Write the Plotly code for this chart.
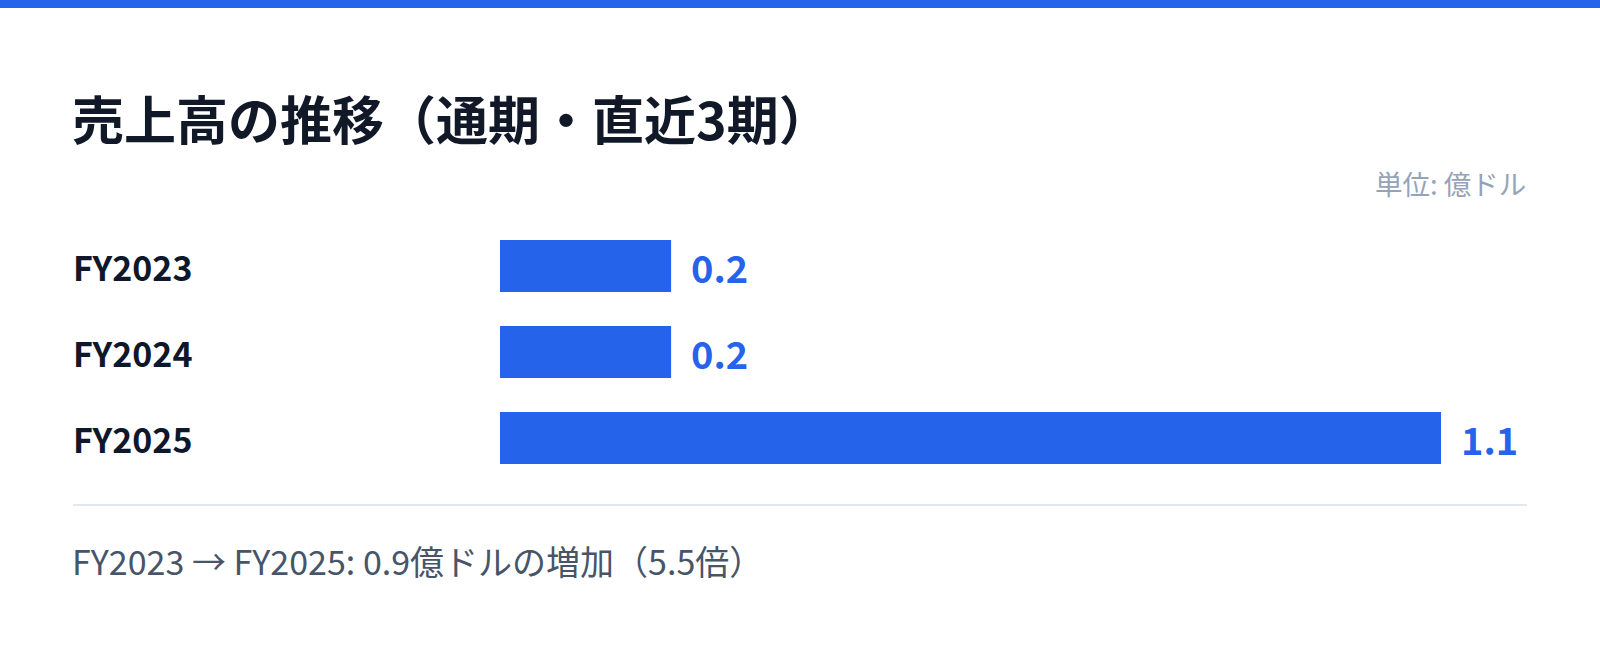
import plotly.graph_objects as go

categories = ["FY2023", "FY2024", "FY2025"]
values = [0.2, 0.2, 1.1]
value_labels = ["0.2", "0.2", "1.1"]
title_text = "売上高の推移（通期・直近3期）"
unit_text = "単位: 億ドル"
footer_text = "FY2023 → FY2025: 0.9億ドルの増加（5.5倍）"

W, H = 1600, 647
L, R, T, B = 500, 73, 223, 166
pw = W - L - R
ph = H - T - B

def px_x(x):
    return (x - L) / pw

def px_y(y):
    return (H - B - y) / ph

FONT = "Noto Sans CJK JP"
BLUE = "#2563eb"

fig = go.Figure()
fig.add_trace(go.Bar(
    y=categories, x=values, orientation="h",
    marker=dict(color=BLUE, line=dict(width=0)),
    hoverinfo="skip", showlegend=False,
))

ann = []
for c, v, t in zip(categories, values, value_labels):
    ann.append(dict(x=v, y=c, xref="x", yref="y", text=f"<b>{t}</b>",
                    showarrow=False, xanchor="left", xshift=18,
                    font=dict(family=FONT, size=38, color=BLUE)))
    ann.append(dict(x=px_x(71), y=c, xref="paper", yref="y", text=f"<b>{c}</b>",
                    showarrow=False, xanchor="left",
                    font=dict(family=FONT, size=34, color="#0f172a")))

ann.append(dict(x=px_x(70), y=px_y(118), xref="paper", yref="paper",
                text=f"<b>{title_text}</b>", showarrow=False, xanchor="left", yanchor="middle",
                font=dict(family=FONT, size=52, color="#111827")))
ann.append(dict(x=px_x(1528), y=px_y(183), xref="paper", yref="paper",
                text=unit_text, showarrow=False, xanchor="right", yanchor="middle",
                font=dict(family=FONT, size=27.5, color="#94a3b8")))
ann.append(dict(x=px_x(70), y=px_y(560), xref="paper", yref="paper",
                text=footer_text, showarrow=False, xanchor="left", yanchor="middle",
                font=dict(family=FONT, size=34, color="#475569")))

shapes = [
    dict(type="rect", xref="paper", yref="paper", x0=px_x(0), x1=px_x(W),
         y0=px_y(0), y1=px_y(8), fillcolor=BLUE, line=dict(width=0), layer="above"),
    dict(type="line", xref="paper", yref="paper", x0=px_x(73), x1=px_x(1527),
         y0=px_y(505), y1=px_y(505), line=dict(color="#e2e8f0", width=2)),
]

fig.update_layout(
    width=W, height=H,
    margin=dict(l=L, r=R, t=T, b=B, pad=0),
    paper_bgcolor="white", plot_bgcolor="white",
    bargap=0.395,
    xaxis=dict(range=[0, pw / 855.5], visible=False, fixedrange=True),
    yaxis=dict(autorange="reversed", visible=False, fixedrange=True),
    annotations=ann, shapes=shapes,
    font=dict(family=FONT),
)

fig.write_html("out.html", config=dict(displayModeBar=False),
               post_script="document.body.style.margin='0';document.body.style.overflow='hidden';")
